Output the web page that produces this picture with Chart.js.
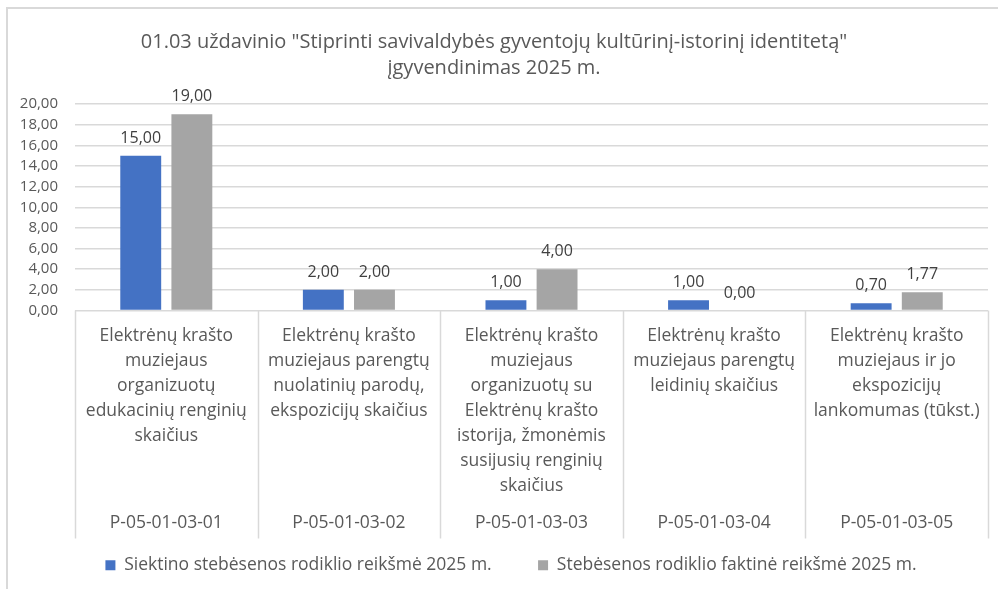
<!DOCTYPE html>
<html>
<head>
<meta charset="utf-8">
<script src="https://cdn.jsdelivr.net/npm/chart.js@4.4.1/dist/chart.umd.min.js"></script>
<style>
  html, body { margin: 0; padding: 0; background: #fff; }
  #wrap { position: relative; width: 998px; height: 589px; overflow: hidden; }
  #frame { position: absolute; left: 6px; top: 7px; width: 1100px; height: 700px;
           border-top: 2px solid #d9d9d9; border-left: 2px solid #d9d9d9; }
  canvas { position: absolute; left: 0; top: 0; }
</style>
</head>
<body>
<div id="wrap">
  <div id="frame"></div>
  <canvas id="chart" width="998" height="589"></canvas>
</div>
<script>
// category descriptions (wrapped as in the original) and codes
const descriptions = [
  ["Elektrėnų krašto", "muziejaus", "organizuotų", "edukacinių renginių", "skaičius"],
  ["Elektrėnų krašto", "muziejaus parengtų", "nuolatinių parodų,", "ekspozicijų skaičius"],
  ["Elektrėnų krašto", "muziejaus", "organizuotų su", "Elektrėnų krašto", "istorija, žmonėmis", "susijusių renginių", "skaičius"],
  ["Elektrėnų krašto", "muziejaus parengtų", "leidinių skaičius"],
  ["Elektrėnų krašto", "muziejaus ir jo", "ekspozicijų", "lankomumas (tūkst.)"]
];
const codes = ["P-05-01-03-01", "P-05-01-03-02", "P-05-01-03-03", "P-05-01-03-04", "P-05-01-03-05"];

const targetValues = [15, 2, 1, 1, 0.7];
const actualValues = [19, 2, 4, 0, 1.77];

const seriesNames = [
  "Siektino stebėsenos rodiklio reikšmė 2025 m.",
  "Stebėsenos rodiklio faktinė reikšmė 2025 m."
];

const titleLines = [
  "01.03 uždavinio \"Stiprinti savivaldybės gyventojų kultūrinį-istorinį identitetą\"",
  "įgyvendinimas 2025 m."
];

const uiFont = "'Open Sans', 'Noto Sans', sans-serif";
const textColor = "#595959";
const lineColor = "#d9d9d9";

function fmt(v) {
  return v.toFixed(2).replace(".", ",");
}

// value labels above bars
const valueLabels = {
  id: "valueLabels",
  afterDatasetsDraw(chart) {
    const ctx = chart.ctx;
    ctx.save();
    ctx.font = "16px " + uiFont;
    ctx.fillStyle = "#404040";
    ctx.textAlign = "center";
    ctx.textBaseline = "alphabetic";
    chart.data.datasets.forEach((ds, i) => {
      chart.getDatasetMeta(i).data.forEach((bar, j) => {
        ctx.fillText(fmt(ds.data[j]), bar.x, bar.y - 13);
      });
    });
    ctx.restore();
  }
};

// separators between categories in the label area
const categoryLines = {
  id: "categoryLines",
  afterDraw(chart) {
    const x = chart.scales.x;
    const x2 = chart.scales.x2;
    const n = codes.length;
    const step = (x.right - x.left) / n;
    const ctx = chart.ctx;
    ctx.save();
    ctx.strokeStyle = lineColor;
    ctx.lineWidth = 1.5;
    for (let i = 0; i <= n; i++) {
      const px = Math.round(x.left + i * step) + 0.5;
      ctx.beginPath();
      ctx.moveTo(px, x.top);
      ctx.lineTo(px, x2.top + 28);
      ctx.stroke();
    }
    ctx.restore();
  }
};

// Excel leaves a wider gap between legend entries
const legendGaps = ["        ", "         "];

new Chart(document.getElementById("chart"), {
  type: "bar",
  data: {
    labels: descriptions,
    datasets: [
      { label: seriesNames[0], data: targetValues, backgroundColor: "#4472C4" },
      { label: seriesNames[1], data: actualValues, backgroundColor: "#A5A5A5" }
    ]
  },
  options: {
    responsive: false,
    animation: false,
    categoryPercentage: 0.56,
    barPercentage: 0.8,
    layout: { padding: { left: 0, right: 10, top: 0, bottom: 5 } },
    plugins: {
      title: {
        display: true,
        text: titleLines,
        color: textColor,
        font: { family: uiFont, size: 20, weight: "normal", lineHeight: 1.3 },
        padding: { top: 29, bottom: 23 }
      },
      legend: {
        position: "bottom",
        fullSize: false,
        labels: {
          boxWidth: 10,
          boxHeight: 10,
          padding: 10,
          color: textColor,
          font: { family: uiFont, size: 17.5 },
          generateLabels(chart) {
            const items = Chart.defaults.plugins.legend.labels.generateLabels(chart);
            items.forEach((it, i) => { it.text = it.text + legendGaps[i]; });
            return items;
          }
        }
      },
      tooltip: { enabled: false }
    },
    scales: {
      y: {
        min: 0,
        max: 20,
        ticks: {
          stepSize: 2,
          autoSkip: false,
          padding: 17,
          color: textColor,
          font: { family: uiFont, size: 15 },
          callback: v => fmt(v)
        },
        grid: { color: lineColor, lineWidth: 1.5, drawTicks: false },
        border: { display: false },
        afterFit(scale) { scale.width = 75; }
      },
      x: {
        grid: { display: false, drawTicks: false },
        border: { display: false },
        ticks: {
          maxRotation: 0,
          autoSkip: false,
          padding: 13,
          color: textColor,
          font: { family: uiFont, size: 17.5, lineHeight: 1.43 }
        },
        afterFit(scale) { scale.height = 200; }
      },
      x2: {
        type: "category",
        position: "bottom",
        labels: codes,
        offset: true,
        grid: { display: false, drawTicks: false },
        border: { display: false },
        ticks: {
          maxRotation: 0,
          autoSkip: false,
          padding: 0,
          color: textColor,
          font: { family: uiFont, size: 17.5, lineHeight: 1.43 }
        },
        afterFit(scale) { scale.height = 36; }
      }
    }
  },
  plugins: [valueLabels, categoryLines]
});
</script>
</body>
</html>
